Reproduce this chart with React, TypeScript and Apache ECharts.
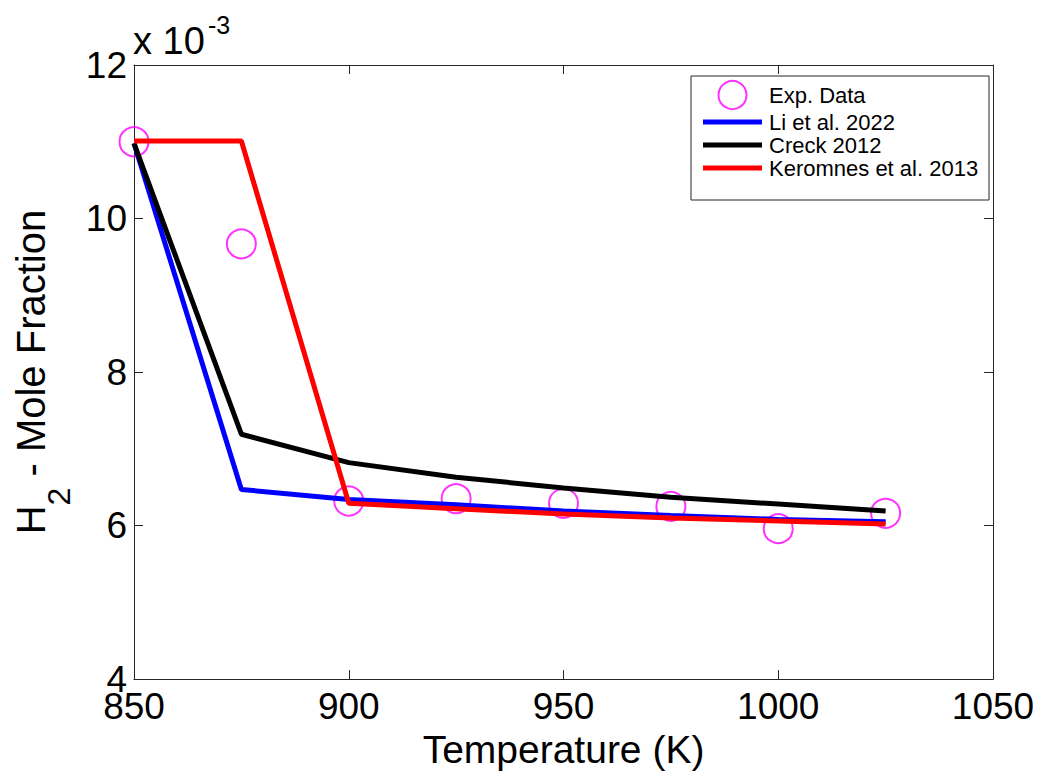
import React, { useEffect, useRef } from "react";
import * as echarts from "echarts";

const temps = [850, 875, 900, 925, 950, 975, 1000, 1025];
const expData = [11.0, 9.67, 6.32, 6.35, 6.29, 6.25, 5.96, 6.16];
const li2022 = [10.98, 6.47, 6.34, 6.27, 6.19, 6.13, 6.08, 6.05];
const creck2012 = [10.98, 7.19, 6.82, 6.63, 6.49, 6.37, 6.28, 6.19];
const keromnes2013 = [11.01, 11.01, 6.29, 6.22, 6.15, 6.1, 6.06, 6.02];

const seriesNames = ["Exp. Data", "Li et al. 2022", "Creck 2012", "Keromnes et al. 2013"];
const xTitle = "Temperature (K)";
const FONT = "'Liberation Sans', Arial, Helvetica, sans-serif";
const LINE_ICON = "path://M0,0 L59,0 L59,5 L0,5 Z";

const pairs = (ys: number[]) => temps.map((t, i) => [t, ys[i]]);

export default function App() {
  const ref = useRef<HTMLDivElement>(null);
  useEffect(() => {
    if (!ref.current) return;
    const chart = echarts.init(ref.current, undefined, { renderer: "svg" });
    const axisLine = { show: true, lineStyle: { color: "#262626", width: 1 } };
    const axisTick = { show: true, inside: true, length: 9, lineStyle: { color: "#262626", width: 1 } };
    const lineSeries = (name: string, ys: number[], color: string) => ({
      name,
      type: "line",
      data: pairs(ys),
      symbol: "none",
      showSymbol: false,
      lineStyle: { color, width: 5 },
      itemStyle: { color },
      xAxisIndex: 0,
      yAxisIndex: 0,
    });
    chart.setOption({
      animation: false,
      backgroundColor: "#ffffff",
      textStyle: { fontFamily: FONT },
      grid: { left: 134, right: 49, top: 65, bottom: 91, containLabel: false },
      xAxis: [
        {
          type: "value",
          min: 850,
          max: 1050,
          interval: 50,
          position: "bottom",
          axisLine,
          axisTick,
          splitLine: { show: false },
          axisLabel: {
            fontSize: 37,
            color: "#000",
            margin: 9,
            fontFamily: FONT,
            formatter: (v: number) => String(v),
          },
          name: xTitle,
          nameLocation: "middle",
          nameGap: 46,
          nameTextStyle: { fontSize: 39, color: "#000", fontFamily: FONT },
        },
        {
          type: "value",
          min: 850,
          max: 1050,
          interval: 50,
          position: "top",
          axisLine,
          axisTick,
          splitLine: { show: false },
          axisLabel: { show: false },
        },
      ],
      yAxis: [
        {
          type: "value",
          min: 4,
          max: 12,
          interval: 2,
          position: "left",
          axisLine,
          axisTick,
          splitLine: { show: false },
          axisLabel: { fontSize: 37, color: "#000", margin: 7, fontFamily: FONT },
          name: "{m|H}{s|2}{m| - Mole Fraction}",
          nameLocation: "middle",
          nameGap: 64,
          nameRotate: 90,
          nameTextStyle: {
            color: "#000",
            fontFamily: FONT,
            rich: {
              m: { fontSize: 40, lineHeight: 50, verticalAlign: "top", color: "#000", fontFamily: FONT },
              s: { fontSize: 32, lineHeight: 36, verticalAlign: "top", padding: [32, 0, 0, 0], color: "#000", fontFamily: FONT },
            },
          },
        },
        {
          type: "value",
          min: 4,
          max: 12,
          interval: 2,
          position: "right",
          axisLine,
          axisTick,
          splitLine: { show: false },
          axisLabel: { show: false },
        },
      ],
      legend: {
        show: true,
        orient: "vertical",
        left: 691,
        top: 76,
        padding: [4, 10, 6, 12],
        itemWidth: 59,
        itemHeight: 28,
        itemGap: 1,
        z: 10,
        textStyle: { fontSize: 22, color: "#000", fontFamily: FONT, padding: [0, 0, 0, 2] },
        data: [
          { name: seriesNames[0], icon: "circle" },
          { name: seriesNames[1], icon: LINE_ICON, itemStyle: { color: "#0000ff", borderWidth: 0 } },
          { name: seriesNames[2], icon: LINE_ICON, itemStyle: { color: "#000000", borderWidth: 0 } },
          { name: seriesNames[3], icon: LINE_ICON, itemStyle: { color: "#ff0000", borderWidth: 0 } },
        ],
      },
      graphic: [
        {
          type: "rect",
          z: 5,
          shape: { x: 691, y: 76, width: 298, height: 124 },
          style: { fill: "#ffffff", stroke: "#262626", lineWidth: 1 },
        },
        {
          type: "text",
          z: 5,
          x: 133,
          y: 41,
          style: { text: "x 10", font: `38px ${FONT}`, fill: "#000", verticalAlign: "middle", align: "left" },
        },
        {
          type: "text",
          z: 5,
          x: 208,
          y: 25,
          style: { text: "-3", font: `25px ${FONT}`, fill: "#000", verticalAlign: "middle", align: "left" },
        },
      ],
      series: [
        {
          name: seriesNames[0],
          type: "scatter",
          data: pairs(expData),
          symbol: "circle",
          symbolSize: 29,
          itemStyle: { color: "rgba(255,255,255,0)", borderColor: "#ff00ff", borderWidth: 2 },
          xAxisIndex: 0,
          yAxisIndex: 0,
        },
        lineSeries(seriesNames[1], li2022, "#0000ff"),
        lineSeries(seriesNames[2], creck2012, "#000000"),
        lineSeries(seriesNames[3], keromnes2013, "#ff0000"),
      ],
    });
    return () => chart.dispose();
  }, []);
  return (
    <div
      ref={ref}
      style={{ position: "absolute", left: 0, top: 0, width: 1042, height: 774, background: "#fff" }}
    />
  );
}
